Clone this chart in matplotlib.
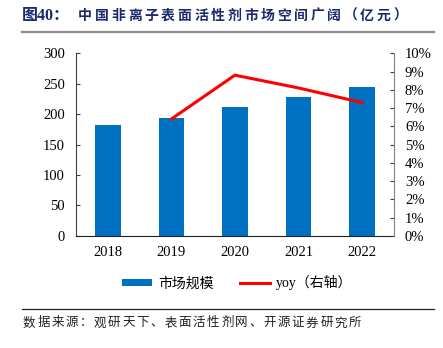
import matplotlib.pyplot as plt
from matplotlib.ticker import FuncFormatter

plt.rcParams['font.family'] = ['Liberation Serif', 'Noto Sans CJK SC', 'DejaVu Sans']

years = ['2018', '2019', '2020', '2021', '2022']
market_size = [182, 194, 211, 228, 244.5]   # 亿元
yoy_years = ['2019', '2020', '2021', '2022']
yoy = [6.4, 8.8, 8.1, 7.3]                  # %

title_head = '图40：'
title_body = '中国非离子表面活性剂市场空间广阔（亿元）'
source = '数据来源：观研天下、表面活性剂网、开源证券研究所'

W, H = 443, 348
cjk = ['Noto Sans CJK SC', 'DejaVu Sans']

fig = plt.figure(figsize=(W / 100, H / 100), dpi=100)
ax = fig.add_axes([0.1716, 0.322, 0.7174, 0.525])
ax2 = ax.twinx()

x = list(range(len(years)))
bars = ax.bar(x, market_size, width=0.4, color='#0070C0', zorder=2)
yx = [years.index(y) for y in yoy_years]
line, = ax2.plot(yx, yoy, color='#FF0000', lw=2.2, zorder=3)

ax.set_xlim(-0.5, 4.5)
ax.set_ylim(0, 300)
ax.set_yticks(range(0, 301, 50))
ax.set_xticks(x)
ax.set_xticklabels(years)
ax2.set_ylim(0, 10)
ax2.set_yticks(range(0, 11))
ax2.yaxis.set_major_formatter(FuncFormatter(lambda v, p: f'{v:.0f}%'))

for a in (ax, ax2):
    a.spines['top'].set_visible(False)
    a.tick_params(labelsize=10.5, direction='in', length=3, width=0.8, colors='#404040',
                  labelcolor='black')
ax.tick_params(axis='x', length=0, pad=7)
ax.spines['right'].set_visible(False)
ax.spines['left'].set_color('#404040')
ax.spines['bottom'].set_color('#202020')
ax2.spines['left'].set_visible(False)
ax2.spines['bottom'].set_visible(False)
ax2.spines['right'].set_color('#808080')
ax.tick_params(axis='y', pad=8)
ax2.tick_params(axis='y', pad=8)

fig.legend([bars, line], ['市场规模', 'yoy（右轴）'], loc='center', bbox_to_anchor=(0.535, 0.187),
           ncol=2, frameon=False, handlelength=2.2, handleheight=0.5, columnspacing=1.9,
           handletextpad=0.4,
           prop={'family': ['Liberation Serif', 'Noto Sans CJK SC'], 'size': 10})


def spaced_text(s, x0, y, pitch, **kw):
    # lay characters out one by one at a fixed pixel pitch
    for i, ch in enumerate(s):
        fig.text((x0 + i * pitch) / W, y, ch, ha='left', va='center', family=cjk, **kw)


# title
fig.text(22 / W, 0.955, title_head, fontsize=11.5, fontweight='bold', color='#1A2A6C',
         family=['Liberation Serif', 'Noto Sans CJK SC'], va='center', ha='left')
spaced_text(title_body, 78, 0.955, 16.6, fontsize=10, fontweight='bold', color='#1A2A6C')
fig.add_artist(plt.Line2D([0.05, 0.98], [0.908, 0.908], color='#8C8C8C', lw=1.6))

# source note
fig.add_artist(plt.Line2D([0.05, 0.98], [0.112, 0.112], color='#202020', lw=0.9))
spaced_text(source, 23, 0.072, 14.15, fontsize=9, color='#202020')

fig.savefig('out.png', dpi=100)
